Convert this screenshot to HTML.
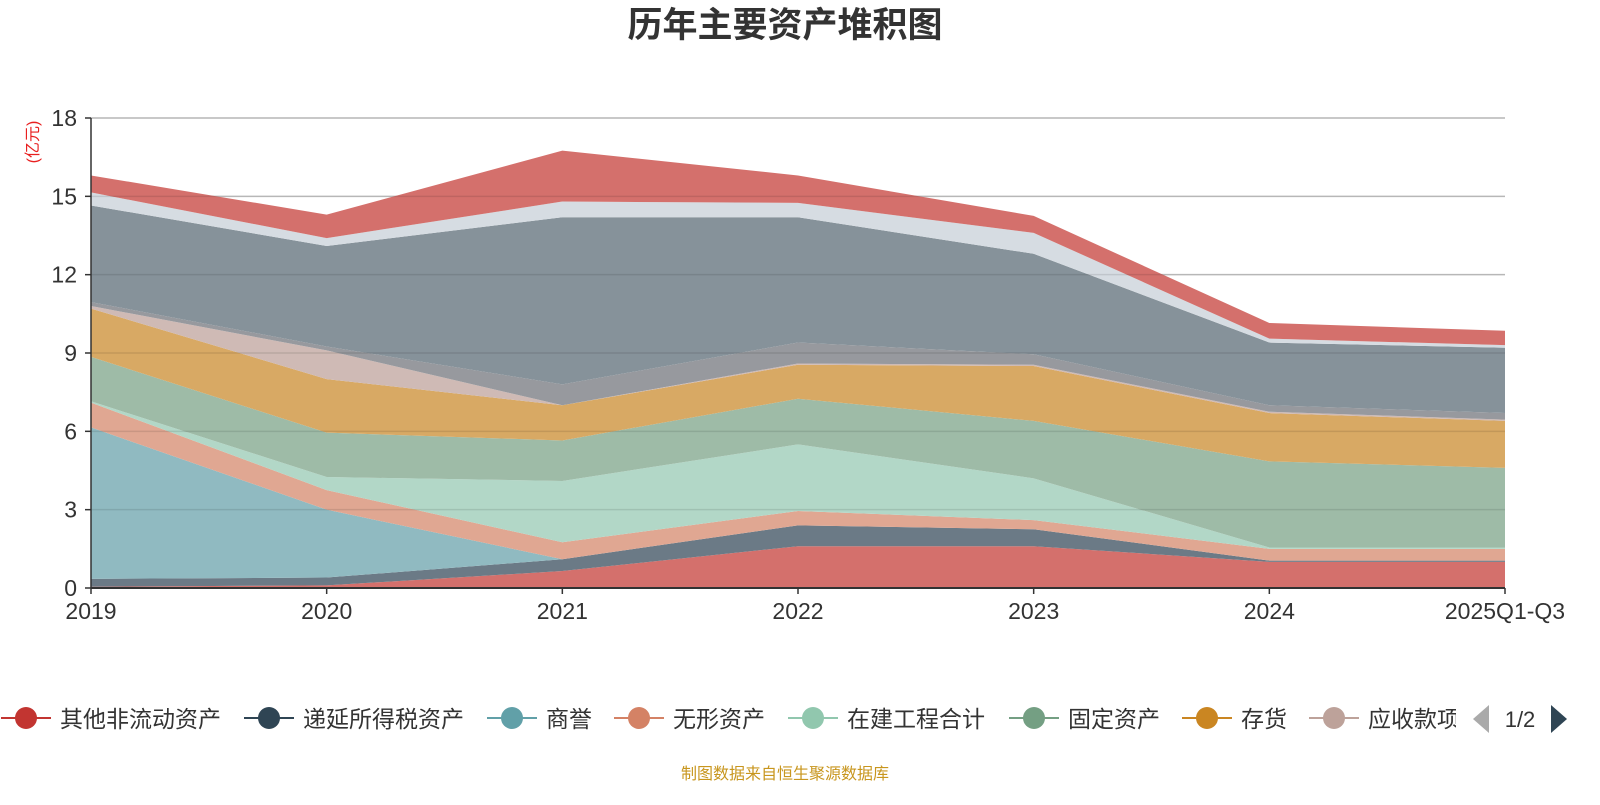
<!DOCTYPE html>
<html><head><meta charset="utf-8">
<style>
html,body{margin:0;padding:0;background:#fff;}
body{width:1600px;height:800px;overflow:hidden;font-family:"Liberation Sans","Noto Sans CJK SC",sans-serif;}
</style></head>
<body>
<svg id="chart" width="1600" height="800" xmlns="http://www.w3.org/2000/svg">
<text x="785" y="37" text-anchor="middle" font-size="35" font-weight="bold" fill="#333" font-family="Liberation Sans, Noto Sans CJK SC, sans-serif">历年主要资产堆积图</text>
<text transform="translate(38,142) rotate(-90)" text-anchor="middle" font-size="16" fill="#e82020" font-family="Liberation Sans, Noto Sans CJK SC, sans-serif">(亿元)</text>
<g id="grid"></g>
<g id="areas"></g>
<g id="axes"></g>
<g id="legend"></g>
<text x="785" y="779" text-anchor="middle" font-size="16" fill="#c8961e" font-family="Liberation Sans, Noto Sans CJK SC, sans-serif">制图数据来自恒生聚源数据库</text>
</svg>
<script>
const categories = ["2019","2020","2021","2022","2023","2024","2025Q1-Q3"];
const yTicks = [0,3,6,9,12,15,18];
const seriesNames = ["其他非流动资产","递延所得税资产","商誉","无形资产","在建工程合计","固定资产","存货","应收款项","其他资产A","其他资产B","其他资产C","其他资产D"];
const s1 = [0.05,0.1,0.65,1.6,1.6,1.0,1.0];
const s2 = [0.3,0.3,0.45,0.8,0.65,0.05,0.05];
const s3 = [5.8,2.6,0,0,0,0,0];
const s4 = [0.95,0.75,0.65,0.55,0.35,0.45,0.45];
const s5 = [0.05,0.5,2.35,2.55,1.6,0.05,0.05];
const s6 = [1.7,1.7,1.55,1.75,2.2,3.3,3.05];
const s7 = [1.85,2.05,1.35,1.3,2.1,1.85,1.8];
const s8 = [0.1,1.1,0.0,0.05,0.05,0.05,0.05];
const s9 = [0.15,0.15,0.8,0.8,0.4,0.25,0.25];
const s10 = [3.7,3.85,6.4,4.8,3.85,2.4,2.5];
const s11 = [0.5,0.3,0.6,0.55,0.8,0.15,0.1];
const s12 = [0.65,0.9,1.95,1.05,0.65,0.6,0.55];
const allSeries = [s1,s2,s3,s4,s5,s6,s7,s8,s9,s10,s11,s12];
const fills = ["#d4706c","#6b7a86","#90bac1","#e0a792","#b2d7c7","#9ebba7","#d8a964","#cfbab5","#97999e","#86929a","#d6dce2","#d4706c"];
const legendColors = ["#c23531","#2f4554","#61a0a8","#d48265","#91c7ae","#749f83","#ca8622","#bda29a"];

const NS="http://www.w3.org/2000/svg";
const x0=91,x1=1505,y0=588,y1=118,yMax=18;
function xs(i){return x0+(x1-x0)*i/(categories.length-1);}
function ys(v){return y0-(y0-y1)*v/yMax;}
function mk(tag,attrs,parent){const e=document.createElementNS(NS,tag);for(const k in attrs)e.setAttribute(k,attrs[k]);parent.appendChild(e);return e;}

const grid=document.getElementById('grid'),areas=document.getElementById('areas'),axes=document.getElementById('axes'),legend=document.getElementById('legend');
yTicks.forEach(t=>{
  if(t===0)return;
  const l=mk('line',{x1:x0,x2:x1,y1:ys(t),y2:ys(t),stroke:'#ccc','stroke-width':1.5},grid);
  
  
});
let base=categories.map(()=>0);
allSeries.forEach((s,k)=>{
  const top=base.map((b,i)=>b+s[i]);
  let d='';
  top.forEach((v,i)=>{d+=(i?'L':'M')+xs(i)+','+ys(v);});
  for(let i=base.length-1;i>=0;i--)d+='L'+xs(i)+','+ys(base[i]);
  const p=mk('path',{d:d+'Z',fill:fills[k]},areas);
  
  
  base=top;
});
yTicks.forEach(t=>{
  if(t===0)return;
  const l=mk('line',{x1:x0,x2:x1,y1:ys(t),y2:ys(t),stroke:'rgba(0,0,0,0.1)','stroke-width':1.5},areas);
  
  
});
const ya=mk('line',{x1:x0,x2:x0,y1:y1,y2:y0,stroke:'#333','stroke-width':1.5},axes);


const xa=mk('line',{x1:x0,x2:x1,y1:y0,y2:y0,stroke:'#333','stroke-width':2},axes);


yTicks.forEach(t=>{
  mk('line',{x1:x0-6,x2:x0,y1:ys(t),y2:ys(t),stroke:'#333','stroke-width':1.5},axes);
  const tx=mk('text',{x:x0-14,y:ys(t)+8,'text-anchor':'end','font-size':23,fill:'#333'},axes);
  tx.textContent=t;
  
  
});
categories.forEach((c,i)=>{
  mk('line',{x1:xs(i),x2:xs(i),y1:y0,y2:y0+6,stroke:'#333','stroke-width':1.5},axes);
  const tx=mk('text',{x:xs(i),y:y0+31,'text-anchor':'middle','font-size':23,fill:'#333'},axes);
  tx.textContent=c;
  
  
});
const lx=[26,269,512,639,813,1034,1207,1334];
legendColors.forEach((c,i)=>{
  const g=mk('g',{},legend);
  
  
  mk('line',{x1:lx[i]-25,x2:lx[i]+25,y1:718,y2:718,stroke:c,'stroke-width':2},g);
  mk('circle',{cx:lx[i],cy:718,r:11,fill:c},g);
  const tx=mk('text',{x:lx[i]+34,y:727,'font-size':23,fill:'#333','font-family':'Liberation Sans, Noto Sans CJK SC, sans-serif'},g);
  tx.textContent=seriesNames[i];
});
mk('rect',{x:1456,y:695,width:20,height:45,fill:'#fff'},legend);
const pl=mk('path',{d:'M1489,705 L1473,719 L1489,733 Z',fill:'#aaa'},legend);


const pt=mk('text',{x:1520,y:727,'text-anchor':'middle','font-size':22,fill:'#333'},legend);
pt.textContent='1/2';


const pn=mk('path',{d:'M1551,705 L1567,719 L1551,733 Z',fill:'#2f4554'},legend);


</script>
</body></html>
